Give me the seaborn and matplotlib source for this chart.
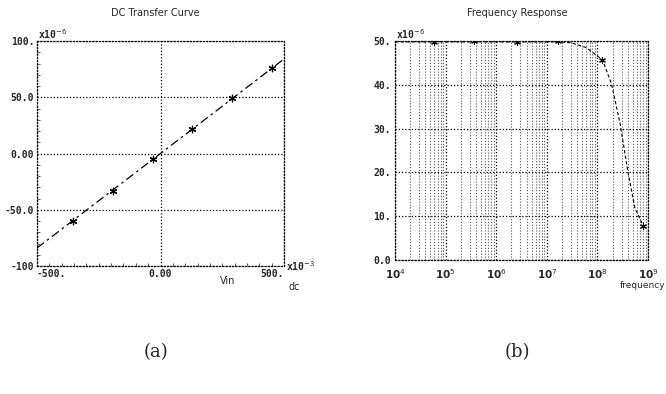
import numpy as np
import pandas as pd
import matplotlib
matplotlib.use("Agg")
import matplotlib.pyplot as plt
import seaborn as sns

# ---- data ----
# DC transfer curve: Vin in mV, Iout in uA
dc_line_vin = [-500, 500]
dc_line_iout = [-84, 84]
dc_mark_vin = [-354, -193, -30, 128, 290, 451]
dc_mark_iout = [-60, -33, -5, 22, 49, 76]

# Frequency response: frequency in Hz, magnitude in uA
fr_freq = [1e4, 5.8e4, 3.6e5, 2.6e6, 1.7e7, 3.0e7, 6.0e7, 1.26e8, 1.9e8, 2.8e8, 4.0e8, 5.5e8, 8.1e8]
fr_mag = [49.8, 49.8, 49.8, 49.8, 49.8, 49.6, 48.5, 45.7, 40.2, 31.2, 20.2, 11.9, 7.7]
fr_mark_freq = [5.8e4, 3.6e5, 2.6e6, 1.7e7, 1.26e8, 8.1e8]
fr_mark_mag = [49.7, 49.9, 49.8, 49.9, 45.7, 7.7]

dc_xticks = [-500, 0, 500]
dc_xticklabels = ["-500.", "0.00", "500."]
dc_yticks = [-100, -50, 0, 50, 100]
dc_yticklabels = ["-100", "-50.0", "0.00", "50.0", "100."]
fr_xticks = [1e4, 1e5, 1e6, 1e7, 1e8, 1e9]
fr_xticklabels = [r"$\mathbf{10}^{4}$", r"$\mathbf{10}^{5}$", r"$\mathbf{10}^{6}$",
                  r"$\mathbf{10}^{7}$", r"$\mathbf{10}^{8}$", r"$\mathbf{10}^{9}$"]
fr_yticks = [0, 10, 20, 30, 40, 50]
fr_yticklabels = ["0.0", "10.", "20.", "30.", "40.", "50."]

sns.set_theme(style="white")
plt.rcParams["font.family"] = ["DejaVu Sans"]

W, H = 666, 394
fig = plt.figure(figsize=(W / 100, H / 100), dpi=100)
ax1 = fig.add_axes([37 / W, 1 - 266 / H, (284 - 37) / W, (266 - 41) / H])
ax2 = fig.add_axes([395 / W, 1 - 260 / H, (648 - 395) / W, (260 - 41) / H])

mono = dict(family="DejaVu Sans Mono", weight="bold", size=7)
dot = (0, (1, 1.6))

# ---- (a) DC transfer curve ----
df_line = pd.DataFrame({"vin": dc_line_vin, "iout": dc_line_iout})
df_mark = pd.DataFrame({"vin": dc_mark_vin, "iout": dc_mark_iout})
sns.lineplot(data=df_line, x="vin", y="iout", ax=ax1, color="black", lw=0.9,
             linestyle=(0, (7, 3, 2, 3)))
sns.scatterplot(data=df_mark, x="vin", y="iout", ax=ax1, color="black",
                marker=(6, 2, 0), s=22, linewidth=0.9)
ax1.set_xlim(-500, 500)
ax1.set_ylim(-100, 100)
ax1.set_xticks(dc_xticks)
ax1.set_xticklabels(dc_xticklabels, **mono)
ax1.set_yticks(dc_yticks)
ax1.set_yticklabels(dc_yticklabels, **mono)
ax1.set_xticks(np.arange(-450, 500, 50), minor=True)
ax1.set_yticks(np.arange(-90, 100, 10), minor=True)
ax1.tick_params(which="major", length=0, pad=2)
ax1.tick_params(which="minor", direction="in", length=2.5, width=0.6, color="#444444",
                bottom=True, left=True)
ax1.get_xticklabels()[0].set_horizontalalignment("left")
ax1.get_xticklabels()[-1].set_horizontalalignment("right")
ax1.grid(True, which="major", color="black", lw=0.9, linestyle=dot)
for s in ax1.spines.values():
    s.set_linestyle(dot)
    s.set_linewidth(0.9)
    s.set_color("black")
ax1.set_xlabel("")
ax1.set_ylabel("")
fig.text(155 / W, 1 - 13 / H, "DC Transfer Curve", ha="center", va="center",
         fontsize=7, family="DejaVu Sans")
ax1.text(0.005, 1.008, r"x10$^{-6}$", transform=ax1.transAxes, ha="left", va="baseline",
         fontsize=7, family="DejaVu Sans Mono", weight="bold")
ax1.text(1.01, 0.0, r"x10$^{-3}$", transform=ax1.transAxes, ha="left", va="center",
         fontsize=7, family="DejaVu Sans Mono", weight="bold")
ax1.text(0.77, -0.045, "Vin", transform=ax1.transAxes, ha="center", va="top",
         fontsize=7, family="DejaVu Sans")
ax1.text(1.04, -0.07, "dc", transform=ax1.transAxes, ha="center", va="top",
         fontsize=7, family="DejaVu Sans")

# ---- (b) Frequency response ----
df_fr = pd.DataFrame({"freq": fr_freq, "mag": fr_mag})
df_frm = pd.DataFrame({"freq": fr_mark_freq, "mag": fr_mark_mag})
ax2.set_xscale("log")
sns.lineplot(data=df_fr, x="freq", y="mag", ax=ax2, color="black", lw=0.8,
             linestyle=(0, (3, 2)))
sns.scatterplot(data=df_frm, x="freq", y="mag", ax=ax2, color="black",
                marker=(6, 2, 0), s=18, linewidth=0.8)
ax2.set_xlim(1e4, 1e9)
ax2.set_ylim(0, 50)
ax2.set_xticks(fr_xticks)
ax2.set_xticklabels(fr_xticklabels, fontsize=7.5)
ax2.set_yticks(fr_yticks)
ax2.set_yticklabels(fr_yticklabels, **mono)
ax2.tick_params(which="both", length=0)
ax2.tick_params(axis="x", pad=5)
ax2.tick_params(axis="y", pad=3)
ax2.grid(True, which="major", color="black", lw=0.9, linestyle=dot)
ax2.grid(True, which="minor", axis="x", color="#555555", lw=0.8, linestyle=dot)
for s in ax2.spines.values():
    s.set_linestyle(dot)
    s.set_linewidth(0.9)
    s.set_color("black")
ax2.set_xlabel("")
ax2.set_ylabel("")
fig.text(517 / W, 1 - 13 / H, "Frequency Response", ha="center", va="center",
         fontsize=7, family="DejaVu Sans")
ax2.text(0.005, 1.008, r"x10$^{-6}$", transform=ax2.transAxes, ha="left", va="baseline",
         fontsize=7, family="DejaVu Sans Mono", weight="bold")
fig.text(665 / W, 1 - 286 / H, "frequency", ha="right", va="center",
         fontsize=6.5, family="DejaVu Sans")

# ---- captions ----
fig.text(156 / W, 1 - 352 / H, "(a)", ha="center", va="center", fontsize=13,
         family="DejaVu Serif")
fig.text(517 / W, 1 - 352 / H, "(b)", ha="center", va="center", fontsize=13,
         family="DejaVu Serif")

fig.savefig("out.png", dpi=100, facecolor="white")
